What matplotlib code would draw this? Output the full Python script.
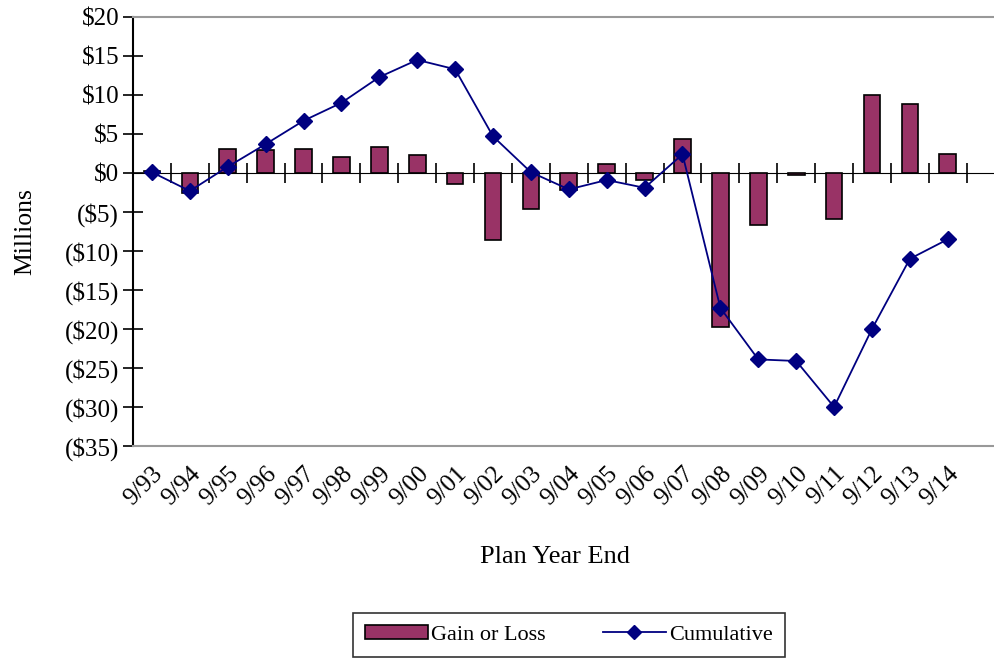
import matplotlib
matplotlib.use("Agg")
import matplotlib.pyplot as plt
from matplotlib.ticker import FuncFormatter, FixedLocator
from matplotlib.lines import Line2D
from matplotlib.patches import Patch
import numpy as np

plt.rcParams['font.family'] = ['Liberation Serif', 'DejaVu Serif']

years = ["9/93", "9/94", "9/95", "9/96", "9/97", "9/98", "9/99", "9/00", "9/01", "9/02", "9/03",
         "9/04", "9/05", "9/06", "9/07", "9/08", "9/09", "9/10", "9/11", "9/12", "9/13", "9/14"]
gain_loss = [0.2, -2.5, 3.1, 2.9, 3.1, 2.1, 3.3, 2.3, -1.4, -8.6, -4.6,
             -2.2, 1.1, -0.9, 4.3, -19.7, -6.7, -0.2, -5.9, 10.0, 8.9, 2.5]
cumulative = [0.1, -2.3, 0.8, 3.7, 6.7, 9.0, 12.3, 14.5, 13.3, 4.7, 0.1,
              -2.1, -0.9, -1.9, 2.4, -17.3, -23.9, -24.1, -30.0, -20.0, -11.0, -8.5]
y_ticks = [20, 15, 10, 5, 0, -5, -10, -15, -20, -25, -30, -35]

bar_color = "#993366"
line_color = "#000080"

fig = plt.figure(figsize=(9.94, 6.62), dpi=100)
ax = fig.add_axes([0.1338, 0.3263, 0.8662, 0.648])

x = np.arange(len(years))
ax.bar(x, gain_loss, width=0.44, color=bar_color, edgecolor="black", linewidth=1.2, zorder=2)
ax.plot(x, cumulative, color=line_color, linewidth=1.3, marker="D", markersize=8,
        markerfacecolor=line_color, markeredgecolor=line_color, zorder=4)

ax.set_xlim(-0.5, 22.22)
ax.set_ylim(-35, 20)

# value axis
ax.set_yticks(y_ticks)
ax.yaxis.set_major_formatter(FuncFormatter(
    lambda v, p: f"${int(v)}" if v >= 0 else f"(${int(-v)})"))
ax.tick_params(axis="y", direction="inout", length=14, width=1.2, labelsize=18, pad=3)
ax.set_ylabel("Millions", fontsize=18.5)
ax.yaxis.set_label_coords(-0.112, 0.5)

# category labels along the bottom, no tick marks there
ax.set_xticks(x)
ax.set_xticklabels(years, rotation=45, ha="right", va="top", rotation_mode="anchor", fontsize=18)
ax.tick_params(axis="x", length=0, pad=12)

# spines: black value axis, light frame elsewhere
ax.spines["left"].set_color("black")
ax.spines["left"].set_linewidth(1.5)
for side in ("top", "bottom"):
    ax.spines[side].set_color("#999999")
    ax.spines[side].set_linewidth(1.5)
ax.spines["right"].set_visible(False)

# category axis crossing at zero with boundary ticks
zero_frac = (0 - (-35)) / (20 - (-35))
sec = ax.secondary_xaxis(zero_frac)
sec.xaxis.set_major_locator(FixedLocator(np.arange(len(years) + 1) - 0.5))
sec.tick_params(axis="x", direction="inout", length=14, width=1.2, labelbottom=False, labeltop=False)
sec.spines["bottom"].set_color("#222222")
sec.spines["bottom"].set_linewidth(1.8)

fig.text(555 / 994, 1 - 557 / 662, "Plan Year End", ha="center", va="center", fontsize=19)

handles = [Patch(facecolor=bar_color, edgecolor="black", linewidth=1.2),
           Line2D([], [], color=line_color, linewidth=1.3, marker="D", markersize=7,
                  markerfacecolor=line_color)]
leg = fig.legend(handles, ["Gain or Loss", "Cumulative"], loc="center",
                 bbox_to_anchor=(569 / 994, 1 - 635 / 662), ncol=2, fontsize=16,
                 frameon=True, fancybox=False, edgecolor="black", handlelength=2.8,
                 handleheight=0.55, columnspacing=2.6, borderpad=0.55, handletextpad=0.15,
                 borderaxespad=0)
leg.get_frame().set_linewidth(1.2)

fig.savefig("out.png", dpi=100)
